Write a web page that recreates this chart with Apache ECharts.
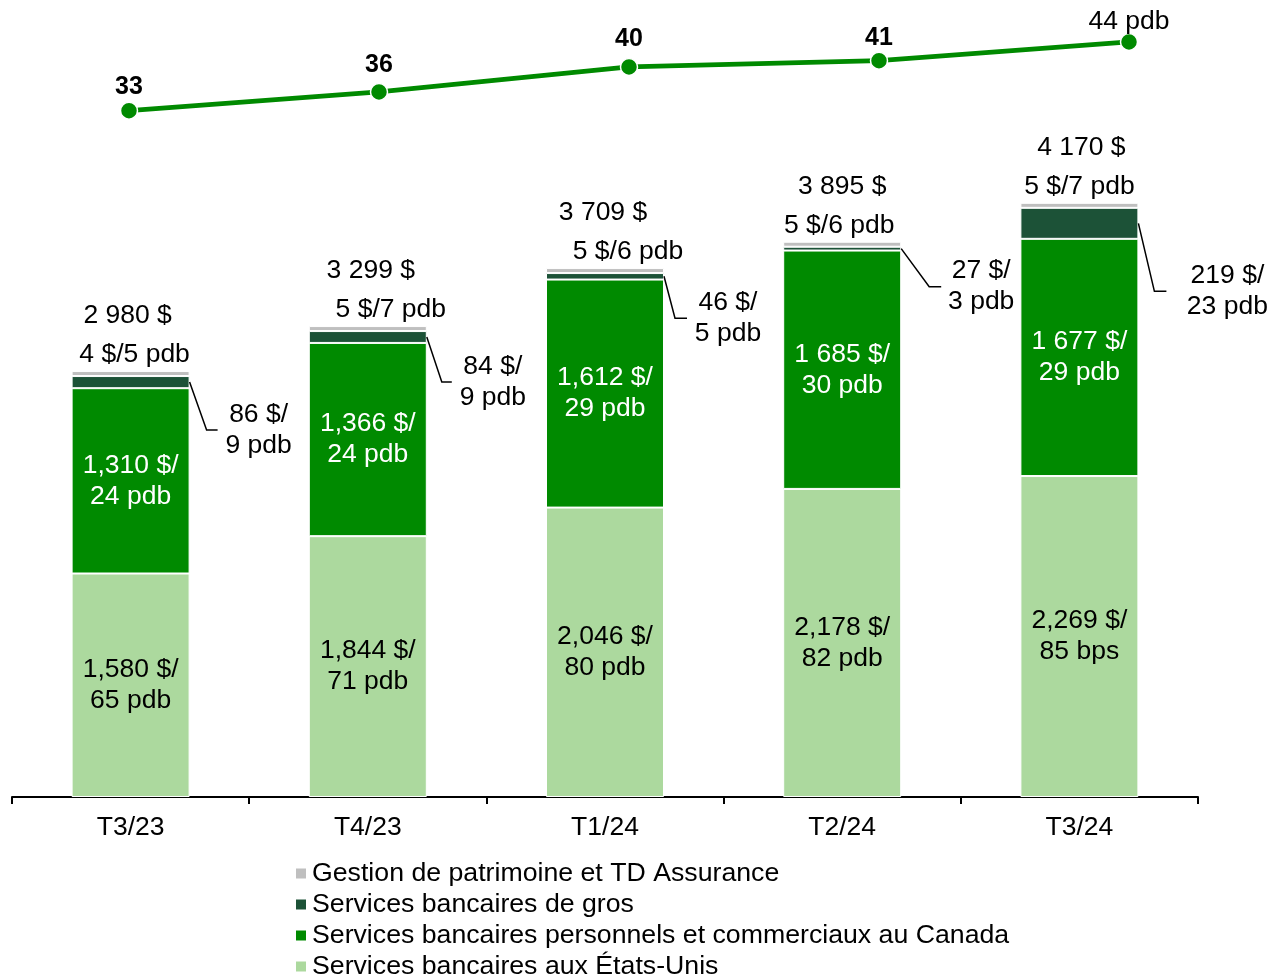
<!DOCTYPE html>
<html>
<head>
<meta charset="utf-8">
<script src="https://cdn.jsdelivr.net/npm/echarts@6/dist/echarts.min.js"></script>
<style>
html,body{margin:0;padding:0;background:#fff;}
#container1{width:1268px;height:976px;}
</style>
</head>
<body>
<div id="container1"></div>
<script>
var quarters = ['T3/23','T4/23','T1/24','T2/24','T3/24'];
var usValues = [1580,1844,2046,2178,2269];
var usLabels = ['1,580 $/\n65 pdb','1,844 $/\n71 pdb','2,046 $/\n80 pdb','2,178 $/\n82 pdb','2,269 $/\n85 bps'];
var canValues = [1310,1366,1612,1685,1677];
var canLabels = ['1,310 $/\n24 pdb','1,366 $/\n24 pdb','1,612 $/\n29 pdb','1 685 $/\n30 pdb','1 677 $/\n29 pdb'];
var grosValues = [86,84,46,27,219];
var grosLabels = ['86 $/\n9 pdb','84 $/\n9 pdb','46 $/\n5 pdb','27 $/\n3 pdb','219 $/\n23 pdb'];
var wealthValues = [4,5,5,5,5];
var wealthLabels = ['4 $/5 pdb','5 $/7 pdb','5 $/6 pdb','5 $/6 pdb','5 $/7 pdb'];
var totalLabels = ['2 980 $','3 299 $','3 709 $','3 895 $','4 170 $'];
var marginValues = [33,36,40,41,44];

var names = ['Gestion de patrimoine et TD Assurance','Services bancaires de gros',
  'Services bancaires personnels et commerciaux au Canada','Services bancaires aux États-Unis'];

// label placement tweaks (px)
var wealthDx = [4,23,23,-3,0];
var totalDx = [-3,3,-2,0,2];
var marginDy = [5,2,1,6,10];
// leader lines for the wholesale labels (from bar right edge / segment middle)
var bendDx = [17,15,11,28,16];
var bendDy = [48,45,42,38,68];
var endDx = [28,25,23,40,28];
var textDx = [69,66,64,80,89];

var FONT = 'Liberation Sans, Arial, sans-serif';
var FS = 26.5;
var BAR_W = 118;

var dom1 = document.getElementById('container1');
var myChart1 = echarts.init(dom1);

function wealthData() {
    var out = [];
    for (var i = 0; i < wealthValues.length; i++) {
        var d = wealthDx[i] - totalDx[i];
        var pad = d > 0 ? [0, 2 * d, 0, 0] : [0, 0, 0, -2 * d];
        out.push({
            value: wealthValues[i],
            label: {
                formatter: '{t|' + totalLabels[i] + '}\n{g|' + wealthLabels[i] + '}',
                rich: {
                    t: {fontSize: FS, lineHeight: 46, color: '#000', fontFamily: FONT, padding: pad},
                    g: {fontSize: FS, lineHeight: 31, color: '#000', fontFamily: FONT}
                },
                offset: [wealthDx[i], 0]
            }
        });
    }
    return out;
}

function marginData() {
    var out = [];
    for (var i = 0; i < marginValues.length; i++) {
        out.push({value: marginValues[i], label: {offset: [0, marginDy[i]]}});
    }
    return out;
}

var option1 = {
    animation: false,
    textStyle: {fontFamily: FONT},
    grid: [
        {left: 12, right: 70, top: 19, bottom: 179},
        {left: 4, right: 14, top: 20, height: 200}
    ],
    legend: {
        data: names,
        orient: 'vertical',
        left: 289,
        top: 853,
        height: 160,
        icon: 'rect',
        itemWidth: 12,
        itemHeight: 12,
        itemGap: 0,
        textStyle: {fontSize: 26.7, color: '#000', lineHeight: 31, fontFamily: FONT}
    },
    xAxis: [
        {
            type: 'category',
            data: quarters,
            gridIndex: 0,
            axisLine: {lineStyle: {color: '#000', width: 2}},
            axisTick: {show: true, length: 7, lineStyle: {color: '#000', width: 2}},
            axisLabel: {fontSize: FS, color: '#000', margin: 17, fontFamily: FONT}
        },
        {
            type: 'category',
            data: quarters,
            gridIndex: 1,
            show: false
        }
    ],
    yAxis: [
        {type: 'value', gridIndex: 0, min: 0, max: 5500, show: false, splitLine: {show: false}},
        {type: 'value', gridIndex: 1, min: 15.5, max: 47.5, show: false, splitLine: {show: false}}
    ],
    series: [
        {
            name: names[3], type: 'bar', stack: 'a', data: usValues, barWidth: BAR_W,
            itemStyle: {color: '#acd99e', borderColor: '#fff', borderWidth: 1},
            label: {
                show: true, position: 'inside', fontSize: FS, lineHeight: 31, color: '#000',
                formatter: function (p) { return usLabels[p.dataIndex]; }
            }
        },
        {
            name: names[2], type: 'bar', stack: 'a', data: canValues, barWidth: BAR_W,
            itemStyle: {color: '#008a00', borderColor: '#fff', borderWidth: 1},
            label: {
                show: true, position: 'inside', fontSize: FS, lineHeight: 31, color: '#fff',
                formatter: function (p) { return canLabels[p.dataIndex]; }
            }
        },
        {
            name: names[1], type: 'bar', stack: 'a', data: grosValues, barWidth: BAR_W,
            itemStyle: {color: '#1c5237', borderColor: '#fff', borderWidth: 1}
        },
        {
            name: names[0], type: 'bar', stack: 'a', data: wealthData(), barWidth: BAR_W,
            barMinHeight: 5,
            itemStyle: {color: '#bfbfbf', borderColor: '#fff', borderWidth: 1},
            label: {show: true, position: 'top', distance: 1}
        },
        {
            name: 'marge', type: 'line', xAxisIndex: 1, yAxisIndex: 1, data: marginData(),
            symbol: 'circle', symbolSize: 17,
            lineStyle: {color: '#008a00', width: 5},
            itemStyle: {color: '#008a00', borderColor: '#fff', borderWidth: 1.5},
            label: {
                show: true, position: 'top', distance: 7,
                formatter: function (p) {
                    if (p.dataIndex === marginValues.length - 1) return '{n|' + p.value + ' pdb}';
                    return '{b|' + p.value + '}';
                },
                rich: {
                    b: {fontSize: 25, fontWeight: 'bold', color: '#000', fontFamily: FONT},
                    n: {fontSize: FS, color: '#000', fontFamily: FONT}
                }
            }
        }
    ]
};
myChart1.setOption(option1);

// leader lines + labels for the wholesale segment
var gfx = [];
for (var i = 0; i < quarters.length; i++) {
    var base = usValues[i] + canValues[i];
    var mid = myChart1.convertToPixel({xAxisIndex: 0, yAxisIndex: 0}, [i, base + grosValues[i] / 2]);
    var right = mid[0] + BAR_W / 2;
    var y0 = mid[1];
    var y1 = y0 + bendDy[i];
    gfx.push({
        type: 'polyline',
        shape: {points: [[right, y0], [right + bendDx[i], y1], [right + endDx[i], y1]]},
        style: {stroke: '#000', lineWidth: 1.5, fill: null},
        z: 10
    });
    gfx.push({
        type: 'text',
        x: right + textDx[i],
        y: y1,
        style: {
            text: grosLabels[i], fill: '#000', fontSize: FS, lineHeight: 31,
            fontFamily: FONT, align: 'center', verticalAlign: 'middle'
        },
        z: 10
    });
}
myChart1.setOption({graphic: gfx});
</script>
</body>
</html>
